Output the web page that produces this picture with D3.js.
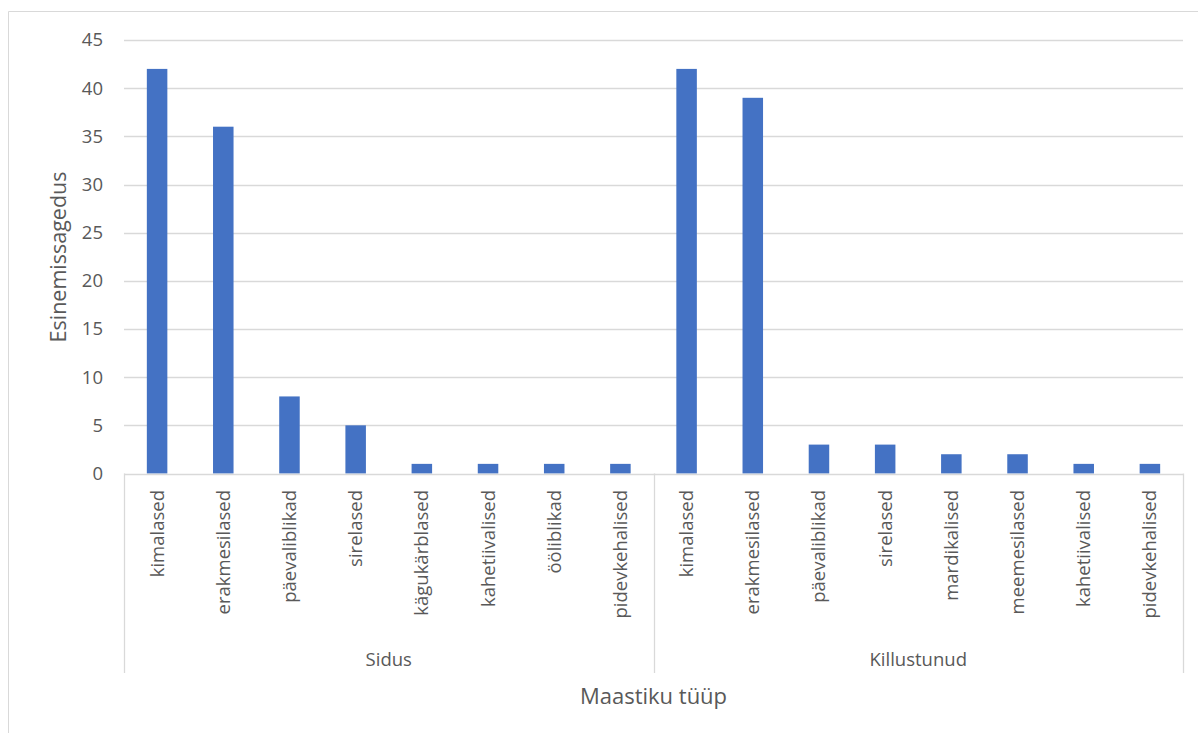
<!DOCTYPE html>
<html>
<head>
<meta charset="utf-8">
<script src="https://cdn.jsdelivr.net/npm/d3@7"></script>
<style>
  html, body { margin: 0; padding: 0; background: #fff; }
  svg { display: block; font-family: "Open Sans", "Noto Sans", sans-serif; }
</style>
</head>
<body>
<svg id="chart" width="1198" height="733"></svg>
<script>
// Landscape groups and the taxa counted within each
const groups = ["Sidus", "Killustunud"];
const sidusTaxa = ["kimalased", "erakmesilased", "päevaliblikad", "sirelased", "kägukärblased", "kahetiivalised", "ööliblikad", "pidevkehalised"];
const sidusValues = [42, 36, 8, 5, 1, 1, 1, 1];
const killustunudTaxa = ["kimalased", "erakmesilased", "päevaliblikad", "sirelased", "mardikalised", "meemesilased", "kahetiivalised", "pidevkehalised"];
const killustunudValues = [42, 39, 3, 3, 2, 2, 1, 1];
const yTicks = [0, 5, 10, 15, 20, 25, 30, 35, 40, 45];
const xTitle = "Maastiku tüüp";
const yTitle = "Esinemissagedus";

const rows = [];
[[sidusTaxa, sidusValues], [killustunudTaxa, killustunudValues]].forEach(([taxa, vals], gi) => {
  taxa.forEach((t, i) => rows.push({ key: gi + "|" + t, group: groups[gi], gi, label: t, value: vals[i] }));
});

const svg = d3.select("#chart");
const m = { left: 124, right: 1183, top: 40, bottom: 473.5 };
const labelBottom = 673;
const gridColor = "#d9d9d9";
const textColor = "#595959";
const tickFont = "18.5px";

// chart frame
svg.append("path")
  .attr("d", "M8.5,733 V11.5 H1198")
  .attr("fill", "none").attr("stroke", gridColor).attr("stroke-width", 1);

const x = d3.scaleBand().domain(rows.map(d => d.key)).range([m.left, m.right]).paddingInner(0).paddingOuter(0);
const y = d3.scaleLinear().domain([0, 45]).range([m.bottom, m.top]);

// horizontal gridlines
svg.append("g").selectAll("line").data(yTicks.filter(v => v > 0)).join("line")
  .attr("x1", m.left).attr("x2", m.right)
  .attr("y1", d => Math.round(y(d)) + 0.5).attr("y2", d => Math.round(y(d)) + 0.5)
  .attr("stroke", gridColor).attr("stroke-width", 1.3);

// y axis labels
const yAxis = d3.axisLeft(y).tickValues(yTicks).tickSize(0).tickPadding(0);
const yg = svg.append("g").attr("transform", `translate(${m.left - 21},0)`).call(yAxis);
yg.select(".domain").remove();
yg.selectAll("text").attr("fill", textColor).style("font-size", tickFont).style("font-family", "\"Open Sans\", sans-serif");

// bars
const barW = x.bandwidth() * 0.31;
svg.append("g").selectAll("rect").data(rows).join("rect")
  .attr("x", d => x(d.key) + (x.bandwidth() - barW) / 2)
  .attr("width", barW)
  .attr("y", d => y(d.value))
  .attr("height", d => y(0) - y(d.value))
  .attr("fill", "#4472c4");

// baseline
svg.append("line")
  .attr("x1", m.left).attr("x2", m.right)
  .attr("y1", Math.round(y(0)) + 0.5).attr("y2", Math.round(y(0)) + 0.5)
  .attr("stroke", gridColor).attr("stroke-width", 1.3);

// group dividers on the category axis
const groupEdges = [m.left, x(rows[sidusTaxa.length].key), m.right];
svg.append("g").selectAll("line").data(groupEdges).join("line")
  .attr("x1", d => Math.round(d) + 0.5).attr("x2", d => Math.round(d) + 0.5)
  .attr("y1", y(0)).attr("y2", labelBottom)
  .attr("stroke", gridColor).attr("stroke-width", 1.3);

// rotated category labels
svg.append("g").selectAll("text").data(rows).join("text")
  .attr("transform", d => `translate(${x(d.key) + x.bandwidth() / 2 + 6.5},490) rotate(-90)`)
  .attr("text-anchor", "end")
  .attr("fill", textColor)
  .style("font-size", tickFont)
  .text(d => d.label);

// group labels
svg.append("g").selectAll("text").data(groups).join("text")
  .attr("x", (d, i) => (groupEdges[i] + groupEdges[i + 1]) / 2)
  .attr("y", 666)
  .attr("text-anchor", "middle")
  .attr("fill", textColor)
  .style("font-size", tickFont)
  .text(d => d);

// axis titles
svg.append("text")
  .attr("x", (m.left + m.right) / 2).attr("y", 704)
  .attr("text-anchor", "middle").attr("fill", textColor)
  .style("font-size", "22px")
  .text(xTitle);

svg.append("text")
  .attr("transform", `translate(66,257) rotate(-90)`)
  .attr("text-anchor", "middle").attr("fill", textColor)
  .style("font-size", "21.5px")
  .text(yTitle);
</script>
</body>
</html>
